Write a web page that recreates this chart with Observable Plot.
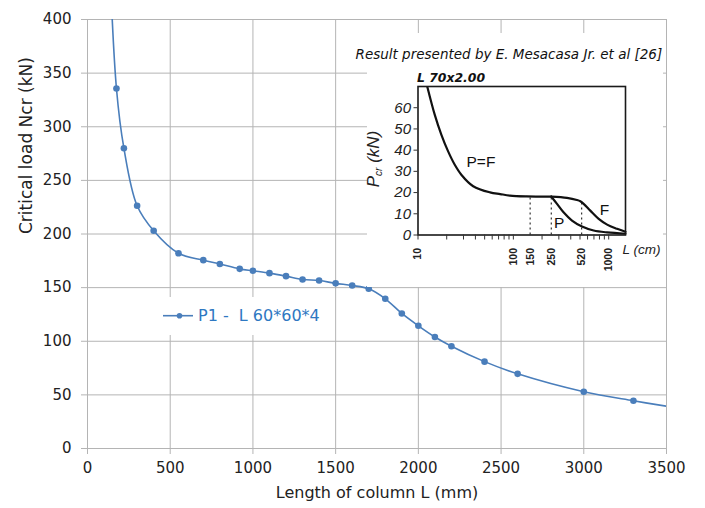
<!DOCTYPE html>
<html><head><meta charset="utf-8">
<script src="https://cdn.jsdelivr.net/npm/d3@7"></script>
<script src="https://cdn.jsdelivr.net/npm/@observablehq/plot@0.6"></script>
<style>
body{margin:0;background:#fff;}
#wrap{position:relative;width:705px;height:508px;background:#fff;}
#inset-bg{position:absolute;left:367px;top:33px;width:296px;height:254px;background:#fff;}
#inset{position:absolute;left:367px;top:33px;width:296px;height:254px;}
#inset svg{overflow:visible;}
#legend{position:absolute;left:160px;top:297px;width:170px;height:38px;background:#fff;}
#legend svg{position:absolute;left:0;top:0;}
#legend span{position:absolute;left:38px;top:9px;font:16px "DejaVu Sans",sans-serif;color:#2E78C2;white-space:pre;}
</style></head><body><div id="wrap"><div id="main"></div><div id="inset-bg"></div><div id="inset"></div><div id="legend"></div></div>
<script>
// ---- Main chart data (Length of column L in mm, critical load Ncr in kN)
const lengthMm = [175, 220, 300, 400, 550, 700, 800, 920, 1000, 1100, 1200, 1300, 1400, 1500, 1600, 1700, 1800, 1900, 2000, 2100, 2200, 2400, 2600, 3000, 3300];
const loadKN   = [335.7, 280, 226.3, 203, 182, 175.6, 172, 167.5, 165.7, 163.5, 160.7, 157.6, 156.6, 154, 152, 148.9, 139.6, 125.9, 114.4, 104, 95.4, 81, 69.6, 52.9, 44.5];
// line continues beyond the plotted markers (clipped at the top, ends at the right edge)
const leadInL = [130];
const leadInN = [470];
const tailL = [3500];
const tailN = [39.4];
const xTicks = [0, 500, 1000, 1500, 2000, 2500, 3000, 3500];
const yTicks = [0, 50, 100, 150, 200, 250, 300, 350, 400];
const xTitle = "Length of column L (mm)";
const yTitle = "Critical load Ncr (kN)";
const seriesName = "P1 -  L 60*60*4";

// ---- Inset data (L in cm, Pcr in kN)
const pfL = [12.5, 15, 17.6, 20.7, 24.3, 28.6, 37.9, 56.9, 72.7, 92, 138, 200, 250];
const pfP = [70, 56.6, 47.2, 39.4, 33.1, 28.3, 23.0, 20.1, 19.3, 18.6, 18.2, 18.1, 18.1];
const pL = [250, 287, 336, 412, 525, 695, 962, 1500];
const pP = [18.1, 14.7, 10.7, 6.8, 4.0, 2.1, 1.2, 0.6];
const fL = [250, 365, 464, 504, 546, 641, 785, 962, 1225, 1500];
const fP = [18.1, 17.5, 16.5, 15.9, 14.7, 11.5, 7.6, 4.9, 2.9, 1.5];
const markerL = [150, 250, 520];
const markerP = [18.1, 18.1, 15.2];
const insetYTicks = [0, 10, 20, 30, 40, 50, 60];
const insetMinorTicks = [10, 20, 30, 40, 50, 60, 70, 80, 90, 100, 200, 300, 400, 500, 600, 700, 800, 900, 1000];
const insetXLabels = [10, 100, 150, 250, 520, 1000];
const curveLabelText = ["P=F", "P", "F"];
const curveLabelL = [45.7, 303, 901];
const curveLabelP = [34.3, 5.6, 12];
const insetSection = "L 70x2.00";
const insetSource = "Result presented by E. Mesacasa Jr. et al [26]";
const insetXTitle = "L (cm)";

const blue = "#4A7EBB";
const grid = "#b4b4b4";

const pts = lengthMm.map((L, i) => ({L, N: loadKN[i]}));
const linePts = [
  ...leadInL.map((L, i) => ({L, N: leadInN[i]})),
  ...pts,
  ...tailL.map((L, i) => ({L, N: tailN[i]}))
];

const main = Plot.plot({
  width: 705, height: 508,
  marginTop: 19, marginRight: 39, marginBottom: 60, marginLeft: 87,
  style: {fontFamily: "'DejaVu Sans', sans-serif", fontSize: "15px", background: "#fff", color: "#222"},
  x: {domain: [0, 3500]},
  y: {domain: [0, 400]},
  marks: [
    Plot.gridX({ticks: xTicks, stroke: grid, strokeOpacity: 1}),
    Plot.gridY({ticks: yTicks, stroke: grid, strokeOpacity: 1}),
    Plot.axisX({ticks: xTicks, tickSize: 6, tickPadding: 8, stroke: grid, fill: "#222", label: null, fontSize: 15, tickFormat: d => String(d)}),
    Plot.axisY({ticks: yTicks, tickSize: 6, tickPadding: 10, stroke: grid, fill: "#222", label: null, fontSize: 15, tickFormat: d => String(d)}),
    Plot.line(linePts, {x: "L", y: "N", curve: "catmull-rom", stroke: blue, strokeWidth: 1.6, clip: true}),
    Plot.dot(pts, {x: "L", y: "N", r: 3.3, fill: blue}),
    Plot.text([xTitle], {text: d => d, frameAnchor: "bottom", dy: 49, fontSize: 16, fill: "#222"}),
    Plot.text([yTitle], {text: d => d, frameAnchor: "left", dx: -61, rotate: -90, fontSize: 17, fill: "#222"})
  ]
});
document.getElementById("main").append(main);

// legend
const legend = document.getElementById("legend");
legend.innerHTML = `<svg width="36" height="38"><line x1="3" y1="18.7" x2="33" y2="18.7" stroke="${blue}" stroke-width="1.6"/><circle cx="19.5" cy="18.7" r="2.8" fill="${blue}"/></svg>`;
const span = document.createElement("span");
span.textContent = seriesName;
legend.append(span);

// ---- Inset
const toPts = (Ls, Ps) => Ls.map((L, i) => ({L, P: Ps[i]}));
const markers = toPts(markerL, markerP);
const curveLabels = curveLabelText.map((t, i) => ({t, L: curveLabelL[i], P: curveLabelP[i]}));

const inset = Plot.plot({
  width: 296, height: 254,
  marginTop: 53, marginRight: 38, marginBottom: 52.5, marginLeft: 50.5,
  style: {fontFamily: "'Liberation Sans', Arial, sans-serif", background: "transparent", color: "#1a1a1a", overflow: "visible"},
  x: {type: "log", domain: [10, 1500]},
  y: {domain: [0, 70]},
  marks: [
    Plot.ruleX(markers, {x: "L", y1: 0, y2: "P", stroke: "#333", strokeWidth: 1.2, strokeDasharray: "2,3"}),
    Plot.line(toPts(pfL, pfP), {x: "L", y: "P", curve: "catmull-rom", stroke: "#111", strokeWidth: 2.2, clip: true}),
    Plot.line(toPts(pL, pP), {x: "L", y: "P", curve: "catmull-rom", stroke: "#111", strokeWidth: 2.2}),
    Plot.line(toPts(fL, fP), {x: "L", y: "P", curve: "catmull-rom", stroke: "#111", strokeWidth: 2.2}),
    Plot.frame({stroke: "#1a1a1a", strokeWidth: 1.6}),
    Plot.axisY({ticks: insetYTicks, tickSize: 4, tickPadding: 3, fontSize: 15, fontStyle: "italic", label: null, stroke: "#333", fill: "#222"}),
    Plot.axisX({ticks: insetMinorTicks, tickSize: 5, tickFormat: () => "", label: null, stroke: "#333"}),
    Plot.axisX({ticks: insetXLabels, tickSize: 0, tickPadding: 13, tickRotate: -90, fontSize: 10.5, fontWeight: "bold", label: null, fill: "#222", tickFormat: d => String(d)}),
    Plot.text(curveLabels, {x: "L", y: "P", text: "t", fontSize: 15.5, fill: "#111"}),
    Plot.text([insetXTitle], {text: d => d, frameAnchor: "bottom-right", dx: -3, dy: 19, textAnchor: "start", fontStyle: "italic", fontSize: 13.5, fill: "#222"}),
    Plot.text([insetSection], {text: d => d, frameAnchor: "top-left", dx: -1, dy: -13, textAnchor: "start", fontWeight: "bold", fontStyle: "italic", fontSize: 12.4, fontFamily: "'DejaVu Sans', sans-serif", fill: "#111"}),
    Plot.text([insetSource], {text: d => d, frameAnchor: "top-left", dx: -62.5, dy: -37, textAnchor: "start", fontStyle: "italic", fontSize: 13.5, fontFamily: "'DejaVu Sans', sans-serif", fill: "#111"})
  ]
});
document.getElementById("inset").append(inset);

// y-axis title of the inset with subscript
const lab = d3.select(inset).append("text")
  .attr("transform", "translate(8,126) rotate(-90)")
  .attr("text-anchor", "middle")
  .attr("dominant-baseline", "middle")
  .attr("font-family", "'Liberation Sans', Arial, sans-serif")
  .attr("font-style", "italic")
  .attr("font-size", "17px")
  .attr("fill", "#222");
lab.append("tspan").text("P");
lab.append("tspan").attr("font-size", "10px").attr("dy", "4").text("cr");
lab.append("tspan").attr("dy", "-4").text(" (kN)");
</script></body></html>
